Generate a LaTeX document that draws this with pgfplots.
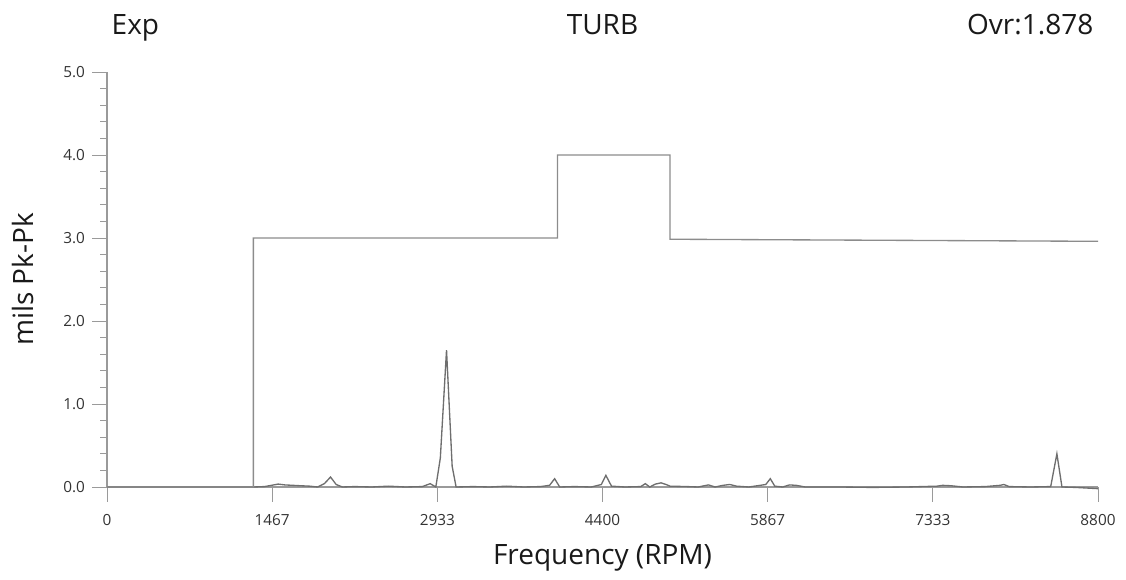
\documentclass[border=0pt]{standalone}
\usepackage{pgfplots}
\pgfplotsset{compat=1.18}
\usepackage{fontspec}
\setmainfont{Open Sans}
\definecolor{alarmc}{HTML}{8C8C8C}
\definecolor{specc}{HTML}{6E6E6E}
\definecolor{axisc}{HTML}{9A9A9A}
\definecolor{tickc}{HTML}{333333}
\begin{document}
\begin{tikzpicture}
\path[use as bounding box] (0,0) rectangle (844.5pt,435pt);
\begin{axis}[
  at={(80.25pt,69.75pt)}, anchor=south west,
  scale only axis, width=743.25pt, height=311.25pt,
  xmin=0, xmax=8800, ymin=0, ymax=5,
  axis lines=left, axis line style={-, color=axisc, line width=0.8pt},
  clip=false,
  tick align=outside,
  major tick length=11pt, minor tick length=5pt,
  every tick/.style={color=axisc, line width=0.6pt},
  xtick={0,1466.667,2933.333,4400,5866.667,7333.333,8800},
  xticklabels={0,1467,2933,4400,5867,7333,8800},
  ytick={0,1,2,3,4,5},
  minor x tick num=3, minor y tick num=4,
  /pgf/number format/assume math mode=true,
  yticklabel={\pgfmathprintnumber[fixed,fixed zerofill,precision=1]{\tick}},
  ticklabel style={font=\fontsize{11.5}{13}\selectfont, color=tickc},
  xticklabel style={yshift=-6pt},
  yticklabel style={xshift=-2pt},
  every axis x label/.style={at={(axis description cs:0.5,0)}, anchor=base, yshift=-58.5pt},
  every axis y label/.style={at={(axis description cs:0,0.5)}, anchor=center, rotate=90, yshift=63pt},
  label style={font=\fontsize{21}{24}\selectfont, color=black!90},
  xlabel={Frequency (RPM)},
  ylabel={mils Pk-Pk},
]
\addplot[color=specc, line width=1pt] coordinates {
 (0,0) (1300,0) (1400,0.005) (1460,0.02) (1520,0.035) (1580,0.025) (1650,0.02) (1720,0.015)
 (1800,0.01) (1870,0.0) (1930,0.04) (1985,0.12) (2035,0.03) (2090,0.0) (2200,0.005)
 (2350,0.0) (2500,0.01) (2650,0.0) (2800,0.005) (2870,0.04) (2920,0.0) (2960,0.35)
 (3015,1.65) (3065,0.25) (3100,0.0) (3250,0.005) (3400,0.0) (3550,0.01) (3700,0.0)
 (3850,0.005) (3930,0.02) (3975,0.1) (4020,0.0) (4150,0.005) (4300,0.0) (4390,0.03)
 (4430,0.14) (4480,0.01) (4600,0.0) (4740,0.005) (4780,0.04) (4820,0.0) (4870,0.035)
 (4920,0.05) (4965,0.03) (5000,0.01) (5150,0.005) (5250,0.0) (5340,0.025) (5400,0.0)
 (5470,0.02) (5530,0.03) (5590,0.01) (5700,0.0) (5850,0.03) (5890,0.1) (5930,0.01)
 (6000,0.0) (6060,0.025) (6120,0.02) (6200,0.0) (6500,0.0) (6800,-0.005) (7100,0.0)
 (7370,0.01) (7420,0.02) (7495,0.015) (7600,0.0) (7800,0.005) (7930,0.02) (7965,0.03)
 (8010,0.005) (8200,0.0) (8380,0.005) (8435,0.40) (8480,0.0) (8600,-0.005) (8800,-0.02)
};
\addplot[color=alarmc, line width=1pt] coordinates {
 (0,0) (1300,0) (1300,3) (4000,3) (4000,4) (5000,4) (5000,2.985) (8800,2.96)
};
\node[anchor=base west, font=\fontsize{21}{24}\selectfont, color=black!90]
  at (axis description cs:0,1) [yshift=27.75pt] {Exp};
\node[anchor=base, font=\fontsize{21}{24}\selectfont, color=black!90]
  at (axis description cs:0.5,1) [yshift=27.75pt] {TURB};
\node[anchor=base east, font=\fontsize{21}{24}\selectfont, color=black!90]
  at (axis description cs:1,1) [yshift=27.75pt] {Ovr:1.878};
\end{axis}
\end{tikzpicture}
\end{document}
